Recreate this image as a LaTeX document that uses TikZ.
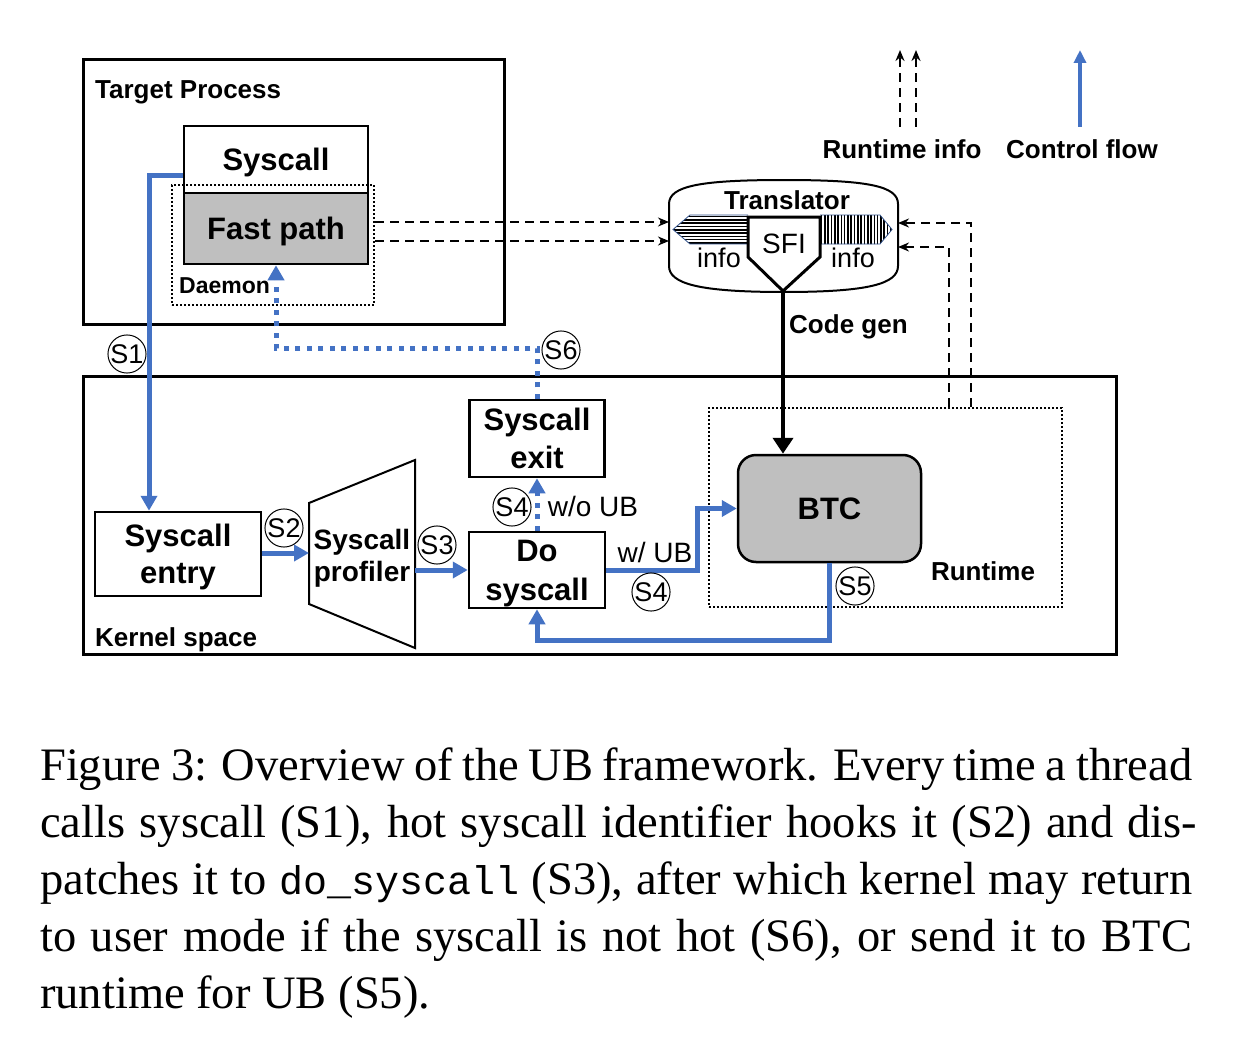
\documentclass[tikz,border=0pt]{standalone}
\usepackage{fontspec}
\setmainfont{Liberation Serif}
\setsansfont{Liberation Sans}
\setmonofont{Liberation Mono}
\usetikzlibrary{arrows.meta}
\definecolor{ubblue}{HTML}{4472C4}
\definecolor{ubgray}{HTML}{BFBFBF}
\begin{document}
\begin{tikzpicture}[x=1pt,y=-1pt,
 bfont/.style={font=\sffamily\bfseries\fontsize{31}{38}\selectfont},
 lfont/.style={font=\sffamily\bfseries\fontsize{26}{30}\selectfont},
 ubbox/.style={draw, line width=2.5pt, bfont, align=center, inner sep=0pt, text depth=0pt},
 outerbox/.style={draw, line width=3pt, inner sep=0pt},
 dotbox/.style={draw, line width=2pt, dash pattern=on 2pt off 2pt, inner sep=0pt},
 lbl/.style={lfont, inner sep=0pt, text depth=0pt},
 reg/.style={font=\sffamily\fontsize{28}{30}\selectfont, inner sep=0pt},
 stepc/.style={circle, draw, line width=1pt, minimum size=37pt, inner sep=0pt, font=\sffamily\fontsize{27}{28}\selectfont},
 ctrl/.style={draw=ubblue, line width=5pt, -{Triangle[length=15pt,width=16pt]}},
 ctrldot/.style={ctrl, dash pattern=on 5pt off 6.5pt},
 rinfo/.style={draw=black, line width=2pt, dash pattern=on 9pt off 6pt, -{Stealth[length=11pt,width=9pt]}},
 codegen/.style={draw=black, line width=4.5pt, -{Triangle[length=16pt,width=20pt]}},
 capline/.style={anchor=base west, inner sep=0pt, font=\rmfamily\fontsize{46.5}{56}\selectfont}
]
\useasboundingbox (0,0) rectangle (1250,1038);

% helper coordinates
\coordinate (h175) at (0,175);
\coordinate (h222) at (0,222);
\coordinate (h241) at (0,241);
\coordinate (h348) at (0,348);
\coordinate (h553) at (0,553);
\coordinate (h640) at (0,640);
\coordinate (v149) at (149,0);
\coordinate (v697) at (697,0);
\coordinate (v949) at (949,0);
\coordinate (v971) at (971,0);

% Target process
\node[outerbox, minimum width=421pt, minimum height=264pt] (tp) at (293.5,192) {};
\node[lbl, anchor=west] (tpl) at (95,90) {Target Process};
\node[ubbox, minimum width=184pt, minimum height=67pt] (sys) at (276,159.5) {Syscall};
\node[ubbox, fill=ubgray, minimum width=184pt, minimum height=71pt] (fast) at (276,228.5) {Fast path};
\node[dotbox, minimum width=202pt, minimum height=120pt] (daemon) at (273,245) {};
\node[lbl, font=\sffamily\bfseries\fontsize{23}{25}\selectfont, anchor=west] (dl) at (179,286) {Daemon};

% Kernel space
\node[outerbox, minimum width=1033pt, minimum height=278pt] (kern) at (599.5,515) {};
\node[lbl, anchor=west] (kl) at (95,637) {Kernel space};
\node[dotbox, minimum width=353pt, minimum height=199pt] (rt) at (885.5,507.5) {};
\node[lbl] (rtl) at (983,571) {Runtime};
\node[ubbox, minimum width=166pt, minimum height=84pt, font=\sffamily\bfseries\fontsize{31}{37}\selectfont] (entry) at (178,554) {Syscall\\entry};
\draw[line width=2pt] (309,503) -- (415,460) -- (415,648) -- (309,604) -- cycle;
\node[font=\sffamily\bfseries\fontsize{28}{32}\selectfont, align=center, inner sep=0pt, text depth=0pt] (prof) at (362,555) {Syscall\\profiler};
\coordinate (profin) at (309,553);
\coordinate (profout) at (415,570);
\node[ubbox, minimum width=136pt, minimum height=76pt, font=\sffamily\bfseries\fontsize{31}{39}\selectfont] (dosys) at (537,570) {Do\\syscall};
\node[ubbox, minimum width=135pt, minimum height=77pt] (exit) at (537,438.5) {Syscall\\exit};
\node[ubbox, fill=ubgray, rounded corners=18pt, minimum width=183pt, minimum height=107pt] (btc) at (829.5,508.5) {BTC};

% Translator
\draw[line width=2pt] (669,266) -- (669,204) .. controls (669,186) and (700,180) .. (784,180) .. controls (868,180) and (898,186) .. (898,204) -- (898,266) .. controls (898,284) and (868,292) .. (784,292) .. controls (700,292) and (669,284) .. (669,266) -- cycle;
\node[lbl] (trl) at (787,200) {Translator};
\coordinate (trin1) at (669,222);
\coordinate (trin2) at (669,241);
\coordinate (trout1) at (898,223);
\coordinate (trout2) at (898,247);
\coordinate (sfitip) at (783,291);
\begin{scope}
\clip (750,215) -- (690,215) -- (673,229.5) -- (690,244) -- (750,244) -- cycle;
\foreach \yy in {216.5,219.8,...,244} \draw[line width=1.6pt] (670,\yy) -- (752,\yy);
\end{scope}
\draw[draw=ubblue!70!black, line width=0.8pt] (748,215) -- (690,215) -- (673,229.5) -- (690,244) -- (748,244);
\begin{scope}
\clip (818,215) -- (880,215) -- (892,229.5) -- (880,244) -- (818,244) -- cycle;
\foreach \xx in {821.5,824.8,...,893} \draw[line width=1.6pt] (\xx,212) -- (\xx,247);
\end{scope}
\draw[draw=ubblue!70!black, line width=0.8pt] (820,215) -- (880,215) -- (892,229.5) -- (880,244) -- (820,244);
\draw[line width=3pt, fill=white, line join=miter] (748,217) -- (820,217) -- (820,257) -- (sfitip) -- (748,257) -- cycle;
\node[reg] (sfi) at (784,244) {SFI};
\node[reg, font=\sffamily\fontsize{27}{28}\selectfont] (infoL) at (719,258) {info};
\node[reg, font=\sffamily\fontsize{27}{28}\selectfont] (infoR) at (853,258) {info};

% code gen
\draw[codegen] (sfitip) -- (sfitip |- btc.north);
\node[lbl, anchor=west] (cgl) at (789,324) {Code gen};

% runtime info
\draw[rinfo] (daemon.east |- h222) -- (trin1);
\draw[rinfo] (daemon.east |- h241) -- (trin2);
\draw[rinfo] (rt.north -| v949) |- (trout2);
\draw[rinfo] (rt.north -| v971) |- (trout1);

% control flow
\draw[ctrl] (sys.west |- h175) -| (entry.north -| v149);
\draw[ctrl] (entry.east |- h553) -- (profin);
\draw[ctrl] (profout) -- (dosys.west);
\draw[ctrldot] (dosys.north) -- (exit.south);
\draw[ctrldot] (exit.north) |- (fast.south |- h348) -- (fast.south);
\draw[ctrl] (dosys.east) -- (v697 |- dosys.east) |- (btc.west);
\draw[ctrl] (btc.south) |- (dosys.south |- h640) -- (dosys.south);
\node[reg] (wo) at (593,506) {w/o UB};
\node[reg] (wub) at (655,552) {w/ UB};

% step circles
\node[stepc] (s1) at (127,354) {S1};
\node[stepc] (s2) at (284,528) {S2};
\node[stepc] (s3) at (437,545) {S3};
\node[stepc] (s4a) at (512,507) {S4};
\node[stepc] (s4b) at (651,592) {S4};
\node[stepc] (s5) at (855,586) {S5};
\node[stepc] (s6) at (561,350) {S6};

% legend
\coordinate (lg1a) at (900,127); \coordinate (lg1b) at (900,50);
\coordinate (lg2a) at (916,127); \coordinate (lg2b) at (916,50);
\coordinate (lg3a) at (1080,127); \coordinate (lg3b) at (1080,50);
\draw[rinfo] (lg1a) -- (lg1b);
\draw[rinfo] (lg2a) -- (lg2b);
\draw[ctrl, line width=4pt, -{Triangle[length=13pt,width=12pt]}] (lg3a) -- (lg3b);
\node[lbl] (lgl1) at (902,149) {Runtime info};
\node[lbl] (lgl2) at (1082,149) {Control flow};

% caption
\node[capline] (c1) at (40,780) {\makebox[1152pt][s]{Figure 3: Overview of the UB framework. Every time a thread}};
\node[capline] (c2) at (40,837) {\makebox[1157pt][s]{calls syscall (S1), hot syscall identifier hooks it (S2) and dis-}};
\node[capline] (c3) at (40,894) {\makebox[1152pt][s]{patches it to {\ttfamily\fontsize{40}{56}\selectfont do\_syscall} (S3), after which kernel may return}};
\node[capline] (c4) at (40,951) {\makebox[1152pt][s]{to user mode if the syscall is not hot (S6), or send it to BTC}};
\node[capline] (c5) at (40,1008) {runtime for UB (S5).};
\end{tikzpicture}
\end{document}
